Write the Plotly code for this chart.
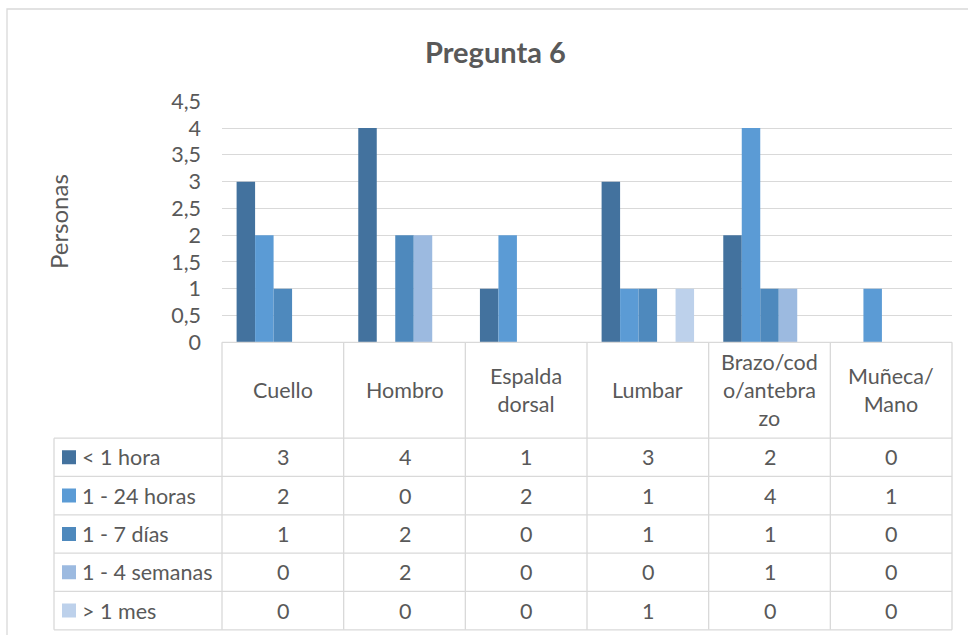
import plotly.graph_objects as go

# ---- data ----
categories = ["Cuello", "Hombro", "Espalda dorsal", "Lumbar",
              "Brazo/codo/antebrazo", "Muñeca/Mano"]
header_labels = ["Cuello", "Hombro", "Espalda<br>dorsal", "Lumbar",
                 "Brazo/cod<br>o/antebra<br>zo", "Muñeca/<br>Mano"]
series_names = ["< 1 hora", "1 - 24 horas", "1 - 7 días", "1 - 4 semanas", "> 1 mes"]
menos_1_hora = [3, 4, 1, 3, 2, 0]
de_1_a_24_horas = [2, 0, 2, 1, 4, 1]
de_1_a_7_dias = [1, 2, 0, 1, 1, 0]
de_1_a_4_semanas = [0, 2, 0, 0, 1, 0]
mas_1_mes = [0, 0, 0, 1, 0, 0]
series_values = [menos_1_hora, de_1_a_24_horas, de_1_a_7_dias,
                 de_1_a_4_semanas, mas_1_mes]
y_ticks = [0, 0.5, 1, 1.5, 2, 2.5, 3, 3.5, 4, 4.5]

# ---- styling ----
colors = ["#43729E", "#5B9BD5", "#4E89BD", "#9CBAE0", "#BDD1EB"]
TEXT = "#595959"
GRID = "#D9D9D9"
FONT = "Lato"
TABLE_SIZE = 21.5
W, H = 968, 635

# pixel geometry of the page
plot_left, plot_right = 222.0, 952.0
legend_left = 54.0
zero_px, top_px = 342.3, 101.3
col_w = (plot_right - plot_left) / len(categories)
row_h = 38.33
header_rows = 2.5          # header height in row units


def px_x(p):
    return p / W


def px_y(p):
    return 1 - p / H


fig = go.Figure()

for name, vals, col in zip(series_names, series_values, colors):
    fig.add_trace(go.Bar(
        x=categories, y=vals, name=name,
        marker=dict(color=col, line=dict(width=0)),
        xaxis="x", yaxis="y", hoverinfo="skip", showlegend=False,
    ))

# table axes (x2: column units, y2: row units, downward)
pad_x = 0.04
x2_lo = -0.5 - (plot_left - legend_left) / col_w
x2_range = [x2_lo - pad_x, len(categories) - 0.5 + pad_x]
pad_y = 0.1
y2_bottom = (H - zero_px) / row_h
y2_range = [y2_bottom, -pad_y]

shapes = []
annotations = []
line_style = dict(color=GRID, width=1.3)

# horizontal rules
shapes.append(dict(type="line", xref="x2", yref="y2", x0=-0.5,
                   x1=len(categories) - 0.5, y0=0, y1=0, line=line_style))
n_rows = len(series_names)
for k in range(n_rows + 1):
    y = header_rows + k
    shapes.append(dict(type="line", xref="x2", yref="y2", x0=x2_lo,
                       x1=len(categories) - 0.5, y0=y, y1=y, line=line_style))
# vertical rules
shapes.append(dict(type="line", xref="x2", yref="y2", x0=x2_lo, x1=x2_lo,
                   y0=header_rows, y1=header_rows + n_rows, line=line_style))
for i in range(len(categories) + 1):
    x = -0.5 + i
    shapes.append(dict(type="line", xref="x2", yref="y2", x0=x, x1=x,
                       y0=0, y1=header_rows + n_rows, line=line_style))

# header labels
for i, lab in enumerate(header_labels):
    annotations.append(dict(x=i, y=header_rows / 2, xref="x2", yref="y2",
                            text=lab, showarrow=False,
                            font=dict(family=FONT, size=TABLE_SIZE, color=TEXT),
                            align="center", xanchor="center", yanchor="middle"))

# legend keys, series names and cell values
for k, (name, vals, col) in enumerate(zip(series_names, series_values, colors)):
    yc = header_rows + k + 0.5
    shapes.append(dict(type="rect", xref="x2", yref="y2",
                       xsizemode="pixel", ysizemode="pixel",
                       xanchor=x2_lo, yanchor=yc,
                       x0=8, x1=22, y0=-7, y1=7,
                       fillcolor=col, line=dict(width=0)))
    annotations.append(dict(x=x2_lo, y=yc, xref="x2", yref="y2",
                            text=name.replace("<", "&lt;").replace(">", "&gt;"),
                            showarrow=False, xanchor="left", yanchor="middle",
                            xshift=26,
                            font=dict(family=FONT, size=TABLE_SIZE, color=TEXT)))
    for i, v in enumerate(vals):
        annotations.append(dict(x=i, y=yc, xref="x2", yref="y2", text=str(v),
                                showarrow=False, xanchor="center",
                                yanchor="middle",
                                font=dict(family=FONT, size=TABLE_SIZE, color=TEXT)))

# title and axis title
annotations.append(dict(x=px_x(495), y=px_y(51), xref="paper", yref="paper",
                        text="<b>Pregunta 6</b>", showarrow=False,
                        xanchor="center", yanchor="middle",
                        font=dict(family=FONT, size=29, color=TEXT)))
annotations.append(dict(x=px_x(58), y=px_y(222), xref="paper", yref="paper",
                        text="Personas", showarrow=False, textangle=-90,
                        xanchor="center", yanchor="middle",
                        font=dict(family=FONT, size=24, color=TEXT)))

# chart frame
shapes.append(dict(type="rect", xref="paper", yref="paper",
                   x0=px_x(7), x1=1.05, y0=-0.05, y1=px_y(9),
                   line=dict(color=GRID, width=1.3), fillcolor="rgba(0,0,0,0)",
                   layer="below"))

fig.update_layout(
    width=W, height=H, autosize=False,
    margin=dict(l=0, r=0, t=0, b=0, pad=0, autoexpand=False),
    paper_bgcolor="white", plot_bgcolor="rgba(0,0,0,0)",
    separators=",.",
    barmode="group", bargap=0.24, bargroupgap=0,
    showlegend=False,
    font=dict(family=FONT, color=TEXT),
    xaxis=dict(domain=[px_x(plot_left), px_x(plot_right)], anchor="y",
               showticklabels=False, showgrid=False, zeroline=False,
               showline=False, ticks="", fixedrange=True, automargin=False),
    yaxis=dict(domain=[px_y(zero_px), px_y(top_px)], anchor="x",
               range=[0, 4.5], tickvals=y_ticks,
               showgrid=True, gridcolor=GRID, gridwidth=1.3,
               zeroline=False, showline=False, ticks="",
               ticklabelstandoff=20, automargin=False,
               tickfont=dict(family=FONT, size=21.5, color=TEXT),
               fixedrange=True),
    xaxis2=dict(domain=[px_x(legend_left - pad_x * col_w),
                        px_x(plot_right + pad_x * col_w)],
                anchor="y2", range=x2_range, visible=False, fixedrange=True,
                automargin=False),
    yaxis2=dict(domain=[0, px_y(zero_px - pad_y * row_h)], anchor="x2",
                range=y2_range, visible=False, fixedrange=True,
                automargin=False),
    shapes=shapes,
    annotations=annotations,
)

# keeps the table subplot alive
fig.add_trace(go.Scatter(x=[0], y=[0], xaxis="x2", yaxis="y2", mode="markers",
                         marker=dict(opacity=0), hoverinfo="skip",
                         showlegend=False))

fig.write_html("out.html", config={"displayModeBar": False})
